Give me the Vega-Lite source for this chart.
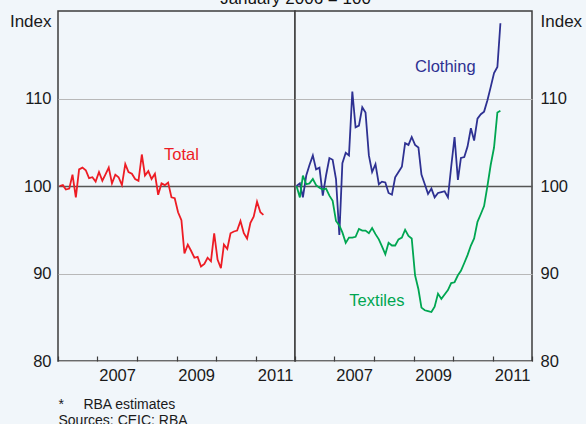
{
  "$schema": "https://vega.github.io/schema/vega-lite/v6.json",
  "background": "#f1f6fa",
  "padding": {"left": 8, "top": -10, "right": 3, "bottom": 0},
  "title": {"text": "January 2006 = 100", "fontSize": 17, "fontWeight": "normal", "font": "Liberation Sans", "color": "#111111", "anchor": "middle", "baseline": "alphabetic", "offset": -11},
  "spacing": 0,
  "bounds": "flush",
  "datasets": {
    "left": [
      {"date":"2006-01-15","series":"Total","value":100.0},
      {"date":"2006-02-15","series":"Total","value":100.1},
      {"date":"2006-03-15","series":"Total","value":99.6},
      {"date":"2006-04-15","series":"Total","value":99.7},
      {"date":"2006-05-15","series":"Total","value":101.3},
      {"date":"2006-06-15","series":"Total","value":98.7},
      {"date":"2006-07-15","series":"Total","value":101.9},
      {"date":"2006-08-15","series":"Total","value":102.1},
      {"date":"2006-09-15","series":"Total","value":101.8},
      {"date":"2006-10-15","series":"Total","value":100.9},
      {"date":"2006-11-15","series":"Total","value":101.0},
      {"date":"2006-12-15","series":"Total","value":100.5},
      {"date":"2007-01-15","series":"Total","value":101.6},
      {"date":"2007-02-15","series":"Total","value":100.6},
      {"date":"2007-03-15","series":"Total","value":101.3},
      {"date":"2007-04-15","series":"Total","value":102.1},
      {"date":"2007-05-15","series":"Total","value":100.3},
      {"date":"2007-06-15","series":"Total","value":101.3},
      {"date":"2007-07-15","series":"Total","value":101.0},
      {"date":"2007-08-15","series":"Total","value":100.1},
      {"date":"2007-09-15","series":"Total","value":102.5},
      {"date":"2007-10-15","series":"Total","value":101.6},
      {"date":"2007-11-15","series":"Total","value":101.4},
      {"date":"2007-12-15","series":"Total","value":100.8},
      {"date":"2008-01-15","series":"Total","value":100.6},
      {"date":"2008-02-15","series":"Total","value":103.6},
      {"date":"2008-03-15","series":"Total","value":101.2},
      {"date":"2008-04-15","series":"Total","value":101.7},
      {"date":"2008-05-15","series":"Total","value":100.8},
      {"date":"2008-06-15","series":"Total","value":101.4},
      {"date":"2008-07-15","series":"Total","value":99.0},
      {"date":"2008-08-15","series":"Total","value":100.3},
      {"date":"2008-09-15","series":"Total","value":100.1},
      {"date":"2008-10-15","series":"Total","value":100.4},
      {"date":"2008-11-15","series":"Total","value":98.7},
      {"date":"2008-12-15","series":"Total","value":98.6},
      {"date":"2009-01-15","series":"Total","value":97.0},
      {"date":"2009-02-15","series":"Total","value":96.1},
      {"date":"2009-03-15","series":"Total","value":92.3},
      {"date":"2009-04-15","series":"Total","value":93.3},
      {"date":"2009-05-15","series":"Total","value":92.6},
      {"date":"2009-06-15","series":"Total","value":91.8},
      {"date":"2009-07-15","series":"Total","value":91.9},
      {"date":"2009-08-15","series":"Total","value":90.8},
      {"date":"2009-09-15","series":"Total","value":91.1},
      {"date":"2009-10-15","series":"Total","value":91.8},
      {"date":"2009-11-15","series":"Total","value":91.4},
      {"date":"2009-12-15","series":"Total","value":94.6},
      {"date":"2010-01-15","series":"Total","value":91.6},
      {"date":"2010-02-15","series":"Total","value":90.6},
      {"date":"2010-03-15","series":"Total","value":93.3},
      {"date":"2010-04-15","series":"Total","value":92.8},
      {"date":"2010-05-15","series":"Total","value":94.6},
      {"date":"2010-06-15","series":"Total","value":94.8},
      {"date":"2010-07-15","series":"Total","value":94.9},
      {"date":"2010-08-15","series":"Total","value":96.0},
      {"date":"2010-09-15","series":"Total","value":94.6},
      {"date":"2010-10-15","series":"Total","value":94.0},
      {"date":"2010-11-15","series":"Total","value":95.8},
      {"date":"2010-12-15","series":"Total","value":96.5},
      {"date":"2011-01-15","series":"Total","value":98.2},
      {"date":"2011-02-15","series":"Total","value":97.0},
      {"date":"2011-03-15","series":"Total","value":96.7}
    ],
    "right": [
      {"date":"2006-01-15","series":"Clothing","value":100.0},
      {"date":"2006-02-15","series":"Clothing","value":100.3},
      {"date":"2006-03-15","series":"Clothing","value":98.7},
      {"date":"2006-04-15","series":"Clothing","value":101.2},
      {"date":"2006-05-15","series":"Clothing","value":102.4},
      {"date":"2006-06-15","series":"Clothing","value":103.5},
      {"date":"2006-07-15","series":"Clothing","value":101.9},
      {"date":"2006-08-15","series":"Clothing","value":102.1},
      {"date":"2006-09-15","series":"Clothing","value":98.9},
      {"date":"2006-10-15","series":"Clothing","value":101.2},
      {"date":"2006-11-15","series":"Clothing","value":103.2},
      {"date":"2006-12-15","series":"Clothing","value":103.0},
      {"date":"2007-01-15","series":"Clothing","value":100.8},
      {"date":"2007-02-15","series":"Clothing","value":94.4},
      {"date":"2007-03-15","series":"Clothing","value":102.6},
      {"date":"2007-04-15","series":"Clothing","value":103.8},
      {"date":"2007-05-15","series":"Clothing","value":103.5},
      {"date":"2007-06-15","series":"Clothing","value":110.8},
      {"date":"2007-07-15","series":"Clothing","value":106.7},
      {"date":"2007-08-15","series":"Clothing","value":106.9},
      {"date":"2007-09-15","series":"Clothing","value":109.0},
      {"date":"2007-10-15","series":"Clothing","value":108.4},
      {"date":"2007-11-15","series":"Clothing","value":103.5},
      {"date":"2007-12-15","series":"Clothing","value":101.6},
      {"date":"2008-01-15","series":"Clothing","value":102.5},
      {"date":"2008-02-15","series":"Clothing","value":100.2},
      {"date":"2008-03-15","series":"Clothing","value":100.5},
      {"date":"2008-04-15","series":"Clothing","value":100.4},
      {"date":"2008-05-15","series":"Clothing","value":99.2},
      {"date":"2008-06-15","series":"Clothing","value":99.0},
      {"date":"2008-07-15","series":"Clothing","value":101.0},
      {"date":"2008-08-15","series":"Clothing","value":101.6},
      {"date":"2008-09-15","series":"Clothing","value":102.2},
      {"date":"2008-10-15","series":"Clothing","value":104.9},
      {"date":"2008-11-15","series":"Clothing","value":104.7},
      {"date":"2008-12-15","series":"Clothing","value":105.6},
      {"date":"2009-01-15","series":"Clothing","value":104.7},
      {"date":"2009-02-15","series":"Clothing","value":104.4},
      {"date":"2009-03-15","series":"Clothing","value":101.3},
      {"date":"2009-04-15","series":"Clothing","value":100.2},
      {"date":"2009-05-15","series":"Clothing","value":99.1},
      {"date":"2009-06-15","series":"Clothing","value":99.7},
      {"date":"2009-07-15","series":"Clothing","value":98.7},
      {"date":"2009-08-15","series":"Clothing","value":99.2},
      {"date":"2009-09-15","series":"Clothing","value":99.3},
      {"date":"2009-10-15","series":"Clothing","value":99.4},
      {"date":"2009-11-15","series":"Clothing","value":98.7},
      {"date":"2009-12-15","series":"Clothing","value":102.2},
      {"date":"2010-01-15","series":"Clothing","value":105.6},
      {"date":"2010-02-15","series":"Clothing","value":100.7},
      {"date":"2010-03-15","series":"Clothing","value":103.2},
      {"date":"2010-04-15","series":"Clothing","value":103.3},
      {"date":"2010-05-15","series":"Clothing","value":104.5},
      {"date":"2010-06-15","series":"Clothing","value":106.6},
      {"date":"2010-07-15","series":"Clothing","value":105.2},
      {"date":"2010-08-15","series":"Clothing","value":107.7},
      {"date":"2010-09-15","series":"Clothing","value":108.2},
      {"date":"2010-10-15","series":"Clothing","value":108.5},
      {"date":"2010-11-15","series":"Clothing","value":109.8},
      {"date":"2010-12-15","series":"Clothing","value":111.3},
      {"date":"2011-01-15","series":"Clothing","value":112.9},
      {"date":"2011-02-15","series":"Clothing","value":113.6},
      {"date":"2011-03-15","series":"Clothing","value":118.6},
      {"date":"2006-01-15","series":"Textiles","value":100.0},
      {"date":"2006-02-15","series":"Textiles","value":98.7},
      {"date":"2006-03-15","series":"Textiles","value":101.2},
      {"date":"2006-04-15","series":"Textiles","value":100.2},
      {"date":"2006-05-15","series":"Textiles","value":100.3},
      {"date":"2006-06-15","series":"Textiles","value":100.8},
      {"date":"2006-07-15","series":"Textiles","value":100.1},
      {"date":"2006-08-15","series":"Textiles","value":99.8},
      {"date":"2006-09-15","series":"Textiles","value":99.6},
      {"date":"2006-10-15","series":"Textiles","value":99.7},
      {"date":"2006-11-15","series":"Textiles","value":98.9},
      {"date":"2006-12-15","series":"Textiles","value":98.3},
      {"date":"2007-01-15","series":"Textiles","value":96.0},
      {"date":"2007-02-15","series":"Textiles","value":95.5},
      {"date":"2007-03-15","series":"Textiles","value":94.7},
      {"date":"2007-04-15","series":"Textiles","value":93.5},
      {"date":"2007-05-15","series":"Textiles","value":94.1},
      {"date":"2007-06-15","series":"Textiles","value":94.1},
      {"date":"2007-07-15","series":"Textiles","value":94.2},
      {"date":"2007-08-15","series":"Textiles","value":95.1},
      {"date":"2007-09-15","series":"Textiles","value":94.9},
      {"date":"2007-10-15","series":"Textiles","value":94.9},
      {"date":"2007-11-15","series":"Textiles","value":94.6},
      {"date":"2007-12-15","series":"Textiles","value":95.2},
      {"date":"2008-01-15","series":"Textiles","value":94.5},
      {"date":"2008-02-15","series":"Textiles","value":93.9},
      {"date":"2008-03-15","series":"Textiles","value":93.1},
      {"date":"2008-04-15","series":"Textiles","value":92.2},
      {"date":"2008-05-15","series":"Textiles","value":93.5},
      {"date":"2008-06-15","series":"Textiles","value":93.2},
      {"date":"2008-07-15","series":"Textiles","value":93.2},
      {"date":"2008-08-15","series":"Textiles","value":93.9},
      {"date":"2008-09-15","series":"Textiles","value":94.1},
      {"date":"2008-10-15","series":"Textiles","value":95.0},
      {"date":"2008-11-15","series":"Textiles","value":94.3},
      {"date":"2008-12-15","series":"Textiles","value":94.0},
      {"date":"2009-01-15","series":"Textiles","value":89.8},
      {"date":"2009-02-15","series":"Textiles","value":88.2},
      {"date":"2009-03-15","series":"Textiles","value":86.1},
      {"date":"2009-04-15","series":"Textiles","value":85.8},
      {"date":"2009-05-15","series":"Textiles","value":85.7},
      {"date":"2009-06-15","series":"Textiles","value":85.6},
      {"date":"2009-07-15","series":"Textiles","value":86.2},
      {"date":"2009-08-15","series":"Textiles","value":87.7},
      {"date":"2009-09-15","series":"Textiles","value":87.1},
      {"date":"2009-10-15","series":"Textiles","value":87.6},
      {"date":"2009-11-15","series":"Textiles","value":88.1},
      {"date":"2009-12-15","series":"Textiles","value":88.9},
      {"date":"2010-01-15","series":"Textiles","value":89.0},
      {"date":"2010-02-15","series":"Textiles","value":89.8},
      {"date":"2010-03-15","series":"Textiles","value":90.3},
      {"date":"2010-04-15","series":"Textiles","value":91.2},
      {"date":"2010-05-15","series":"Textiles","value":92.1},
      {"date":"2010-06-15","series":"Textiles","value":93.2},
      {"date":"2010-07-15","series":"Textiles","value":94.0},
      {"date":"2010-08-15","series":"Textiles","value":95.9},
      {"date":"2010-09-15","series":"Textiles","value":96.8},
      {"date":"2010-10-15","series":"Textiles","value":97.7},
      {"date":"2010-11-15","series":"Textiles","value":100.0},
      {"date":"2010-12-15","series":"Textiles","value":102.4},
      {"date":"2011-01-15","series":"Textiles","value":104.4},
      {"date":"2011-02-15","series":"Textiles","value":108.4},
      {"date":"2011-03-15","series":"Textiles","value":108.6}
    ],
    "labelsLeft": [
      {"date":"2009-02-15","series":"Total","value":103.6}
    ],
    "labelsRight": [
      {"date":"2009-10-22","series":"Clothing","value":113.6},
      {"date":"2008-01-28","series":"Textiles","value":86.9}
    ]
  },
  "hconcat": [
    {
      "width": 237,
      "height": 350,
      "resolve": {"axis": {"x": "independent"}},
      "layer": [
        {
          "data": {"name": "left"},
          "mark": {"type": "line", "strokeWidth": 1.8},
          "encoding": {
            "x": {
              "field": "date", "type": "temporal",
              "scale": {"type": "utc", "domain": [{"year": 2006, "month": 1, "date": 1, "utc": true}, {"year": 2012, "month": 1, "date": 1, "utc": true}]},
              "axis": {
                "orient": "bottom",
                "values": [{"year": 2006, "utc": true}, {"year": 2007, "utc": true}, {"year": 2008, "utc": true}, {"year": 2009, "utc": true}, {"year": 2010, "utc": true}, {"year": 2011, "utc": true}, {"year": 2012, "utc": true}],
                "labels": false,
                "tickSize": -5,
                "domain": false,
                "grid": false,
                "title": ["*\u00a0\u00a0\u00a0\u00a0\u00a0RBA estimates", "Sources: CEIC; RBA"],
                "titleX": 0,
                "titleY": 47,
                "titleAlign": "left",
                "titleAnchor": "start",
                "titleBaseline": "alphabetic",
                "titleFontSize": 14,
                "titleFontWeight": "normal",
                "titleLineHeight": 16
              }
            },
            "y": {
              "field": "value", "type": "quantitative",
              "scale": {"domain": [80, 120], "nice": false, "zero": false},
              "axis": {
                "values": [80, 90, 100, 110],
                "orient": "left",
                "ticks": false,
                "domain": false,
                "labelPadding": 7,
                "grid": true,
                "gridColor": {"condition": {"test": "datum.value === 100", "value": "#555555"}, "value": "#b8b8b8"},
                "gridWidth": {"condition": {"test": "datum.value === 100", "value": 1.5}, "value": 1},
                "title": "Index",
                "titleAngle": 0,
                "titleX": -7,
                "titleY": 10,
                "titleAlign": "right",
                "titleBaseline": "middle",
                "titleFontSize": 17,
                "titleFontWeight": "normal"
              }
            },
            "color": {"field": "series", "type": "nominal", "scale": {"domain": ["Total", "Clothing", "Textiles"], "range": ["#ed1c24", "#2e3192", "#00a651"]}, "legend": null}
          }
        },
        {
          "data": {"name": "labelsLeft"},
          "mark": {"type": "text", "fontSize": 16.5, "align": "center", "baseline": "middle"},
          "encoding": {
            "x": {
              "field": "date", "type": "temporal",
              "axis": {
                "orient": "bottom",
                "values": [{"year": 2007, "month": 7, "date": 1, "utc": true}, {"year": 2009, "month": 7, "date": 1, "utc": true}, {"year": 2011, "month": 7, "date": 1, "utc": true}],
                "format": "%Y",
                "ticks": false,
                "domain": false,
                "grid": false,
                "labelPadding": 6,
                "labelFlush": false,
                "labelOverlap": false,
                "title": null
              }
            },
            "y": {"field": "value", "type": "quantitative"},
            "text": {"field": "series"},
            "color": {"field": "series", "type": "nominal", "legend": null}
          }
        }
      ]
    },
    {
      "width": 237,
      "height": 350,
      "resolve": {"axis": {"x": "independent"}},
      "layer": [
        {
          "data": {"name": "right"},
          "mark": {"type": "line", "strokeWidth": 1.8},
          "encoding": {
            "x": {
              "field": "date", "type": "temporal",
              "scale": {"type": "utc", "domain": [{"year": 2006, "month": 1, "date": 1, "utc": true}, {"year": 2012, "month": 1, "date": 1, "utc": true}]},
              "axis": {
                "orient": "bottom",
                "values": [{"year": 2006, "utc": true}, {"year": 2007, "utc": true}, {"year": 2008, "utc": true}, {"year": 2009, "utc": true}, {"year": 2010, "utc": true}, {"year": 2011, "utc": true}, {"year": 2012, "utc": true}],
                "labels": false,
                "tickSize": -5,
                "domain": false,
                "grid": false,
                "title": null
              }
            },
            "y": {
              "field": "value", "type": "quantitative",
              "scale": {"domain": [80, 120], "nice": false, "zero": false},
              "axis": {
                "values": [80, 90, 100, 110],
                "orient": "right",
                "ticks": false,
                "domain": false,
                "labelPadding": 8,
                "labelAlign": "left",
                "grid": true,
                "gridColor": {"condition": {"test": "datum.value === 100", "value": "#555555"}, "value": "#b8b8b8"},
                "gridWidth": {"condition": {"test": "datum.value === 100", "value": 1.5}, "value": 1},
                "title": "Index",
                "titleAngle": 0,
                "titleX": 8,
                "titleY": 10,
                "titleAlign": "left",
                "titleBaseline": "middle",
                "titleFontSize": 17,
                "titleFontWeight": "normal"
              }
            },
            "color": {"field": "series", "type": "nominal", "scale": {"domain": ["Total", "Clothing", "Textiles"], "range": ["#ed1c24", "#2e3192", "#00a651"]}, "legend": null}
          }
        },
        {
          "data": {"name": "labelsRight"},
          "mark": {"type": "text", "fontSize": 16.5, "align": "center", "baseline": "middle"},
          "encoding": {
            "x": {
              "field": "date", "type": "temporal",
              "axis": {
                "orient": "bottom",
                "values": [{"year": 2007, "month": 7, "date": 1, "utc": true}, {"year": 2009, "month": 7, "date": 1, "utc": true}, {"year": 2011, "month": 7, "date": 1, "utc": true}],
                "format": "%Y",
                "ticks": false,
                "domain": false,
                "grid": false,
                "labelPadding": 6,
                "labelFlush": false,
                "labelOverlap": false,
                "title": null
              }
            },
            "y": {"field": "value", "type": "quantitative"},
            "text": {"field": "series"},
            "color": {"field": "series", "type": "nominal", "legend": null}
          }
        }
      ]
    }
  ],
  "config": {
    "font": "Liberation Sans",
    "view": {"stroke": "#3c3c3c", "strokeWidth": 1.5, "fill": "#f1f6fa"},
    "axis": {
      "labelFont": "Liberation Sans",
      "labelFontSize": 16.5,
      "labelColor": "#1a1a1a",
      "titleFont": "Liberation Sans",
      "titleColor": "#1a1a1a",
      "tickColor": "#3c3c3c",
      "tickWidth": 1.2
    }
  }
}
